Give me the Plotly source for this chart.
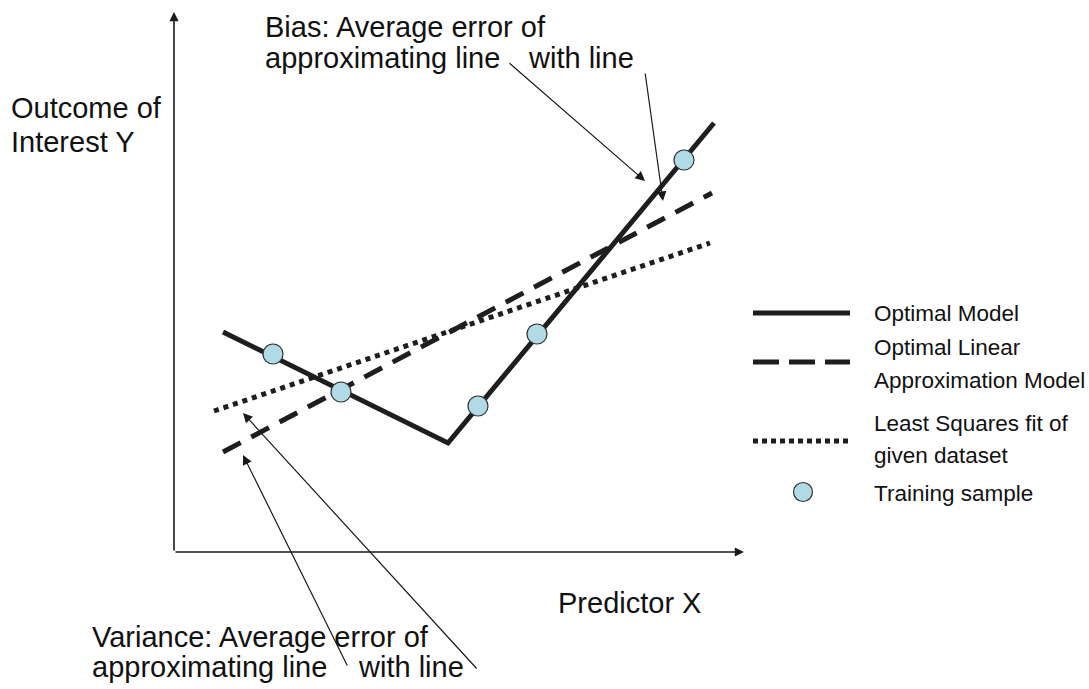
import plotly.graph_objects as go

# ---- data (diagram units: 1 unit = 50 px, origin at axes corner) ----
optimal_x = [0.98, 5.48, 10.80]
optimal_y = [4.40, 2.18, 8.58]

linear_x = [0.98, 10.76]
linear_y = [2.00, 7.18]

lsq_x = [0.80, 10.72]
lsq_y = [2.82, 6.18]

sample_x = [1.98, 3.34, 6.08, 7.26, 10.20]
sample_y = [3.96, 3.20, 2.92, 4.36, 7.84]

legend_labels = ["Optimal Model", "Optimal Linear", "Approximation Model",
                 "Least Squares fit of", "given dataset", "Training sample"]

U = 50.0
OX, OY = 174.0, 552.0
W, H = 1089, 689


def px(x):
    return (x - OX) / U


def py(y):
    return (OY - y) / U


LINE = "#1e1e1e"
FONT = "Liberation Sans, Arial"
fig = go.Figure()

fig.add_trace(go.Scatter(x=linear_x, y=linear_y, mode="lines",
                         line=dict(color=LINE, width=5, dash="20px,12px"),
                         showlegend=False, hoverinfo="skip"))
fig.add_trace(go.Scatter(x=lsq_x, y=lsq_y, mode="lines",
                         line=dict(color=LINE, width=5, dash="5px,5px"),
                         showlegend=False, hoverinfo="skip"))
fig.add_trace(go.Scatter(x=optimal_x, y=optimal_y, mode="lines",
                         line=dict(color=LINE, width=5),
                         showlegend=False, hoverinfo="skip"))
fig.add_trace(go.Scatter(x=sample_x, y=sample_y, mode="markers",
                         marker=dict(size=20, color="#b0dae6",
                                     line=dict(color="#333333", width=1.2)),
                         showlegend=False, hoverinfo="skip"))

# ---- manual legend ----
lx0, lx1 = px(753), px(850)
fig.add_trace(go.Scatter(x=[lx0, lx1], y=[py(313), py(313)], mode="lines",
                         line=dict(color=LINE, width=5), showlegend=False, hoverinfo="skip"))
fig.add_trace(go.Scatter(x=[lx0, lx1], y=[py(362), py(362)], mode="lines",
                         line=dict(color=LINE, width=5, dash="26px,10px"),
                         showlegend=False, hoverinfo="skip"))
fig.add_trace(go.Scatter(x=[lx0, lx1], y=[py(441), py(441)], mode="lines",
                         line=dict(color=LINE, width=5, dash="5px,4px"),
                         showlegend=False, hoverinfo="skip"))
fig.add_trace(go.Scatter(x=[px(803)], y=[py(492)], mode="markers",
                         marker=dict(size=19, color="#b0dae6",
                                     line=dict(color="#333333", width=1.2)),
                         showlegend=False, hoverinfo="skip"))

anns = []
leg_y = [313, 347, 380, 423, 455, 493]
for lab, yy in zip(legend_labels, leg_y):
    anns.append(dict(x=px(872), y=py(yy), text=lab, showarrow=False,
                     xanchor="left", yanchor="middle",
                     font=dict(size=22.5, color="#111111", family=FONT)))


def label(text, x, y, size=29):
    anns.append(dict(x=px(x), y=py(y), text=text, showarrow=False,
                     xanchor="left", yanchor="middle",
                     font=dict(size=size, color="#111111", family=FONT)))


label("Outcome of", 9, 108)
label("Interest Y", 9, 142)
label("Bias: Average error of", 263, 27)
label("approximating line", 263, 58)
label("with line", 526, 58)
label("Predictor X", 556, 603)
label("Variance: Average error of", 90, 637)
label("approximating line", 90, 667)
label("with line", 356, 667)


def arrow(x_tip, y_tip, x_tail, y_tail, width=1.2, size=1.6):
    anns.append(dict(x=px(x_tip), y=py(y_tip), ax=px(x_tail), ay=py(y_tail),
                     xref="x", yref="y", axref="x", ayref="y", text="",
                     showarrow=True, arrowhead=2, arrowsize=size, arrowwidth=width,
                     arrowcolor="#1a1a1a", standoff=0))


# axes of the diagram
arrow(174, 12, 174, 552, width=1.6, size=1.15)
arrow(744, 552, 174, 552, width=1.6, size=1.15)
# pointer arrows
arrow(645, 181, 508, 62)
arrow(663, 201, 645, 72)
arrow(243, 455, 348, 667)
arrow(243, 413, 478, 670)

fig.update_layout(
    width=W, height=H,
    margin=dict(l=0, r=0, t=0, b=0),
    paper_bgcolor="white", plot_bgcolor="white",
    xaxis=dict(range=[px(0), px(W)], visible=False, fixedrange=True),
    yaxis=dict(range=[py(H), py(0)], visible=False, fixedrange=True),
    annotations=anns,
    showlegend=False,
)

fig.write_html("out.html", config={"displayModeBar": False})
